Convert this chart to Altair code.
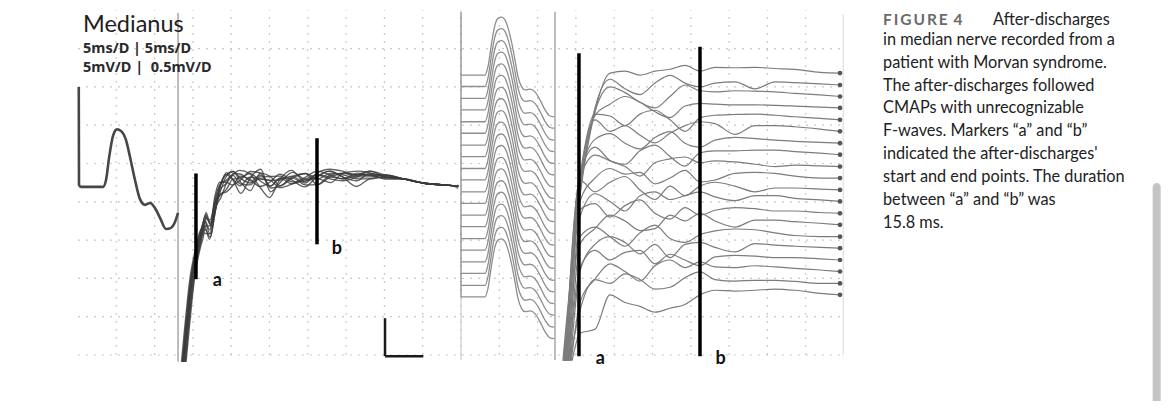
import altair as alt
import pandas as pd

# ---------------- data: time in ms (5 ms/div), amplitude in divisions ----------------
# Left panel: CMAP trace (5 mV/D)
cmap_left_t = [0.10, 0.13, 0.39, 3.26, 3.66, 4.05, 4.57, 5.09, 5.61, 6.27, 6.79, 7.44, 8.09,
               8.75, 9.40, 10.05, 10.71, 11.49, 12.14, 12.66, 13.06]
cmap_left_y = [7.00, 4.44, 4.39, 4.39, 4.57, 5.14, 5.72, 5.89, 5.85, 5.61, 5.17, 4.57, 4.07,
               3.92, 3.97, 3.84, 3.58, 3.29, 3.32, 3.47, 3.71]

# Left panel: superimposed F-wave / after-discharge sweeps (0.5 mV/D)
fbundle_t = [13.71, 14.10, 14.49, 14.88, 15.27, 15.66, 16.05, 16.58, 17.23, 17.88, 18.54, 19.32,
             20.23, 21.15, 22.45, 23.76, 25.06, 26.37, 27.93, 29.63, 31.20, 32.89, 34.59, 36.42,
             38.11, 40.07, 42.42, 45.03, 47.64, 49.60]
fbundle_y = [-0.18, 0.65, 1.44, 2.09, 2.53, 2.87, 3.19, 3.52, 3.37, 3.92, 4.26, 4.46,
             4.54, 4.52, 4.54, 4.60, 4.41, 4.52, 4.57, 4.54, 4.60, 4.65, 4.65, 4.65,
             4.70, 4.65, 4.60, 4.49, 4.44, 4.41]
fbundle_shift = [0.0, 0.15, -0.10, 0.30, 0.10, -0.20, 0.25, 0.05, 0.40, -0.05]
fbundle_dev_from = 7
fbundle_dev = [
    [0.10, 0.15, 0.05, -0.10, -0.15, 0.05, 0.10, 0.20, -0.05, 0.00, 0.10, -0.10, 0.05, 0.10, 0.00, -0.05, 0.05, 0.10, 0.00, 0.00],
    [-0.25, -0.30, -0.15, 0.15, 0.25, 0.25, 0.00, -0.25, 0.15, 0.25, -0.10, 0.05, 0.20, -0.15, 0.05, 0.10, 0.00, -0.05, 0.05, 0.00],
    [0.00, -0.10, 0.20, 0.25, 0.05, -0.10, 0.15, 0.05, -0.20, 0.10, 0.20, 0.00, -0.15, 0.05, 0.15, 0.00, -0.10, 0.05, 0.00, 0.00],
    [-0.35, -0.20, 0.00, 0.20, 0.30, 0.00, -0.30, 0.10, 0.25, -0.15, 0.00, 0.20, 0.05, 0.00, -0.15, 0.10, 0.05, 0.00, -0.05, 0.00],
    [0.15, 0.05, -0.15, 0.00, 0.20, 0.25, 0.10, -0.05, 0.00, 0.15, -0.15, -0.10, 0.10, 0.20, 0.05, -0.05, 0.10, 0.00, 0.05, 0.00],
    [-0.15, -0.35, -0.30, 0.05, 0.00, 0.15, 0.30, 0.20, -0.20, -0.30, 0.05, 0.25, 0.00, 0.05, 0.15, 0.00, -0.25, -0.10, 0.00, 0.00],
    [0.05, 0.10, 0.10, -0.05, -0.20, -0.10, 0.05, 0.25, 0.15, 0.00, 0.10, 0.05, -0.10, -0.15, 0.00, 0.10, 0.15, 0.05, 0.00, 0.00],
    [-0.15, 0.00, 0.15, 0.20, 0.10, 0.15, -0.05, -0.10, 0.05, 0.25, 0.15, -0.05, 0.00, 0.10, -0.05, -0.10, 0.00, 0.10, 0.05, 0.00],
    [0.20, 0.00, -0.05, -0.15, 0.05, 0.20, 0.20, 0.00, 0.10, -0.05, -0.10, 0.10, 0.20, 0.00, 0.10, 0.05, -0.05, -0.10, 0.00, 0.00],
    [-0.05, -0.20, 0.05, 0.15, 0.25, 0.05, -0.10, 0.10, 0.00, 0.15, 0.05, 0.10, -0.05, 0.15, 0.20, 0.15, 0.05, 0.00, -0.05, 0.00],
]

# Right panel: raster of 20 CMAPs (same shape, stacked baselines)
cmap_stack_t = [50.0, 53.13, 53.52, 54.0, 54.44, 54.83, 55.31, 55.74, 56.14, 56.62, 57.05, 57.44,
                57.92, 58.36, 59.01, 59.66, 60.31, 60.97, 61.62, 62.18]
cmap_stack_shape = [0.0, 0.0, 0.22, 0.84, 1.31, 1.48, 1.51, 1.44, 1.23, 0.84, 0.39, -0.04,
                    -0.31, -0.39, -0.37, -0.44, -0.65, -0.91, -1.07, -1.09]
cmap_stack_base = [7.31, 7.01, 6.70, 6.40, 6.09, 5.79, 5.48, 5.18, 4.87, 4.57, 4.26, 3.96,
                   3.65, 3.35, 3.04, 2.74, 2.43, 2.13, 1.82, 1.52]

# Right panel: raster of 20 after-discharge sweeps
fr_grid_t = [65.54, 67.49, 69.45, 71.41, 73.37, 75.33, 77.29, 79.25, 81.20, 83.16, 85.77, 88.38,
             91.00, 93.60, 96.87, 99.48]
fr_start_t = [63.4, 63.5, 63.3, 63.6, 63.7, 63.5, 63.8, 63.6, 63.9, 64.0, 63.7, 64.1, 63.8, 64.2,
              64.0, 64.3, 64.1, 64.4, 64.2, 64.5]
fr_start_y = -0.15
fr_level = [7.36, 7.05, 6.75, 6.45, 6.14, 5.84, 5.53, 5.23, 4.92, 4.62, 4.31, 4.01, 3.70, 3.40,
            3.09, 2.79, 2.48, 2.18, 1.87, 1.57]
fr_dev = [
    [-3.2, -1.00, 0.00, 0.05, -0.05, 0.05, 0.10, 0.20, 0.05, 0.15, 0.14, 0.15, 0.12, 0.10, 0.02, 0],
    [-2.8, -0.60, 0.15, -0.10, -0.25, 0.05, 0.25, 0.05, -0.05, 0.05, 0.08, -0.10, 0.08, 0.06, 0.03, 0],
    [-2.5, -0.40, 0.25, 0.10, -0.15, -0.30, 0.00, 0.30, 0.15, 0.12, 0.15, 0.14, 0.12, 0.08, 0.04, 0],
    [-2.0, -0.20, 0.10, 0.30, 0.15, -0.10, -0.25, 0.05, 0.12, 0.10, 0.08, 0.08, 0.07, 0.05, 0.02, 0],
    [-1.7, 0.15, 0.10, -0.15, 0.15, 0.25, 0.00, -0.30, 0.05, 0.12, 0.14, 0.15, 0.12, 0.08, 0.04, 0],
    [-1.2, 0.30, 0.00, 0.15, -0.10, -0.30, -0.05, 0.15, 0.25, 0.20, -0.08, 0.15, 0.15, 0.12, 0.06, 0],
    [-0.9, 0.10, 0.25, 0.00, -0.15, 0.15, 0.30, 0.00, -0.10, 0.08, 0.15, 0.12, 0.08, 0.05, 0.02, 0],
    [-0.5, 0.20, -0.15, -0.25, 0.10, 0.25, -0.05, -0.30, 0.05, 0.10, 0.10, 0.12, 0.12, 0.08, 0.04, 0],
    [-0.3, 0.30, 0.15, 0.00, -0.25, 0.10, 0.20, 0.25, 0.10, 0.15, 0.12, 0.06, 0.00, 0.04, 0.02, 0],
    [-0.6, 0.00, 0.25, 0.10, 0.15, -0.15, 0.00, 0.20, -0.10, -0.05, 0.12, 0.15, 0.12, 0.05, 0.00, 0],
    [0.25, -0.05, 0.20, 0.35, 0.00, -0.25, 0.10, -0.15, 0.10, 0.20, 0.10, -0.05, 0.05, 0.05, 0.02, 0],
    [-0.4, 0.20, 0.00, -0.25, 0.15, 0.25, 0.05, 0.15, 0.25, 0.12, 0.02, 0.15, 0.15, 0.08, 0.04, 0],
    [0.1, 0.25, -0.10, 0.20, 0.35, 0.00, -0.15, 0.15, -0.05, 0.08, 0.15, 0.12, 0.06, 0.06, 0.02, 0],
    [-0.5, -0.10, 0.25, 0.10, -0.15, -0.10, 0.25, 0.10, 0.30, 0.10, -0.06, 0.12, 0.12, 0.08, 0.04, 0],
    [0.0, 0.25, 0.00, -0.25, 0.10, 0.30, -0.05, -0.15, 0.05, 0.15, 0.20, 0.18, 0.10, 0.03, 0.00, 0],
    [-0.6, 0.10, 0.30, 0.15, -0.15, 0.10, -0.25, 0.10, 0.15, 0.02, -0.10, 0.12, 0.08, 0.05, 0.02, 0],
    [-0.2, 0.25, 0.00, 0.20, 0.25, -0.10, 0.15, 0.00, -0.15, 0.08, 0.12, 0.10, 0.06, 0.06, 0.03, 0],
    [-0.8, -0.20, 0.20, 0.00, -0.25, 0.15, 0.30, 0.10, 0.25, 0.12, 0.10, 0.15, 0.12, 0.08, 0.04, 0],
    [-0.7, 0.10, 0.00, 0.25, 0.10, -0.15, -0.10, 0.15, 0.30, 0.10, 0.06, 0.08, 0.08, 0.05, 0.00, 0],
    [-1.0, -0.90, 0.00, -0.20, -0.30, -0.45, -0.35, -0.25, 0.00, 0.12, 0.10, 0.12, 0.15, 0.12, 0.04, 0],
]

# Markers a / b (ms) and their vertical extent (div)
markers_t = [15.4, 31.2, 65.4, 81.2]
markers_lo = [1.98, 2.89, -0.03, -0.03]
markers_hi = [4.74, 5.66, 7.88, 8.05]
markers_label = ["a", "b", "a", "b"]
labels_t = [18.2, 33.8, 68.2, 83.9]
labels_y = [1.81, 2.65, -0.24, -0.24]

# Separators (ms, from div, to div, colour)
sep_t = [13.06, 50.0, 50.0, 62.27, 99.9]
sep_lo = [-0.17, 1.50, -0.13, -0.13, 0.0]
sep_hi = [8.93, 8.96, 1.50, 8.96, 8.9]
sep_col = ["#9a9a9a", "#8a8a8a", "#cfcfcf", "#9a9a9a", "#e2e2e2"]

caption = [
    "in median nerve recorded from a",
    "patient with Morvan syndrome.",
    "The after-discharges followed",
    "CMAPs with unrecognizable",
    "F-waves. Markers \u201ca\u201d and \u201cb\u201d",
    "indicated the after-discharges'",
    "start and end points. The duration",
    "between \u201ca\u201d and \u201cb\u201d was",
    "15.8 ms.",
]

FONT = "Lato"
W, H = 1154, 393
PXD = 38.3                 # pixels per division in the reference
X0, Y0 = 78 - 8, 355 - 8   # plot-pixel position of (0 ms, 0 div)
xs = alt.Scale(domain=[-X0 / PXD * 5, (W - X0) / PXD * 5], nice=False, zero=False)
ys = alt.Scale(domain=[-(H - Y0) / PXD, Y0 / PXD], nice=False, zero=False)


def X(f):
    return alt.X(f, type="quantitative", scale=xs, axis=None)


def Y(f):
    return alt.Y(f, type="quantitative", scale=ys, axis=None)


# ---------------- build tables ----------------
grid_v = pd.DataFrame({"t": [5.0 * k for k in range(1, 20)], "lo": 0.0, "hi": 9.0})
grid_h = pd.DataFrame({"y": [float(k) for k in range(0, 9)], "t0": 0.0, "t1": 100.0})

cmap_left = pd.DataFrame({"t": cmap_left_t, "y": cmap_left_y, "k": range(len(cmap_left_t))})

rows = []
for i, (sh, dev) in enumerate(zip(fbundle_shift, fbundle_dev)):
    for j, (t, y) in enumerate(zip(fbundle_t, fbundle_y)):
        d = 0.0
        if fbundle_dev_from <= j < fbundle_dev_from + len(dev):
            d = dev[j - fbundle_dev_from]
        s = sh if j < fbundle_dev_from else sh * 0.3
        rows.append({"trace": i, "k": j, "t": t + s, "y": y + d})
fbundle = pd.DataFrame(rows)

rows = []
for i, b in enumerate(cmap_stack_base):
    for j, (t, o) in enumerate(zip(cmap_stack_t, cmap_stack_shape)):
        rows.append({"trace": i, "k": j, "t": t, "y": b + o})
stack = pd.DataFrame(rows)

rows = []
for i, (t0, lev, dev) in enumerate(zip(fr_start_t, fr_level, fr_dev)):
    rows.append({"trace": i, "k": 0, "t": t0, "y": fr_start_y})
    for j, (t, d) in enumerate(zip(fr_grid_t, dev)):
        rows.append({"trace": i, "k": j + 1, "t": t, "y": lev + d})
fright = pd.DataFrame(rows)
fdots = pd.DataFrame({"t": [fr_grid_t[-1]] * len(fr_level), "y": fr_level})

markers = pd.DataFrame({"t": markers_t, "lo": markers_lo, "hi": markers_hi})
labels = pd.DataFrame({"t": labels_t, "y": labels_y, "txt": markers_label})
seps = pd.DataFrame({"t": sep_t, "lo": sep_lo, "hi": sep_hi, "c": sep_col})

scalebar_v = pd.DataFrame({"t": [40.08], "lo": [-0.03], "hi": [0.96]})
scalebar_h = pd.DataFrame({"t0": [40.08], "t1": [45.08], "y": [-0.03]})
arrow = pd.DataFrame({"t": [49.35], "y": [4.39]})

# ---------------- layers ----------------
layers = []
layers.append(alt.Chart(grid_v).mark_rule(color="#c9c9c9", strokeWidth=1.2, strokeDash=[2, 6])
              .encode(x=X("t"), y=Y("lo"), y2="hi"))
layers.append(alt.Chart(grid_h).mark_rule(color="#c9c9c9", strokeWidth=1.2, strokeDash=[2, 6])
              .encode(y=Y("y"), x=X("t0"), x2="t1"))
layers.append(alt.Chart(seps).mark_rule(strokeWidth=1.3)
              .encode(x=X("t"), y=Y("lo"), y2="hi", color=alt.Color("c:N", scale=None)))
layers.append(alt.Chart(cmap_left).mark_line(color="#474747", strokeWidth=2.6, interpolate="monotone")
              .encode(x=X("t"), y=Y("y"), order="k:Q"))
layers.append(alt.Chart(fbundle).mark_line(color="#3a3a3a", strokeWidth=1.35, opacity=0.8,
                                           interpolate="monotone")
              .encode(x=X("t"), y=Y("y"), detail="trace:N", order="k:Q"))
layers.append(alt.Chart(stack).mark_line(color="#8e8e8e", strokeWidth=1.3, interpolate="monotone")
              .encode(x=X("t"), y=Y("y"), detail="trace:N", order="k:Q"))
layers.append(alt.Chart(fright).mark_line(color="#7c7c7c", strokeWidth=1.2, interpolate="monotone")
              .encode(x=X("t"), y=Y("y"), detail="trace:N", order="k:Q"))
layers.append(alt.Chart(fdots).mark_circle(color="#555555", size=22, opacity=1)
              .encode(x=X("t"), y=Y("y")))
layers.append(alt.Chart(arrow).mark_point(shape="triangle-left", filled=True, color="#444444", size=25)
              .encode(x=X("t"), y=Y("y")))
layers.append(alt.Chart(markers).mark_rule(color="#000000", strokeWidth=3.5)
              .encode(x=X("t"), y=Y("lo"), y2="hi"))
layers.append(alt.Chart(labels).mark_text(font=FONT, fontSize=18, fontWeight="bold", color="#111111",
                                          align="center", baseline="alphabetic")
              .encode(x=X("t"), y=Y("y"), text="txt:N"))
layers.append(alt.Chart(scalebar_v).mark_rule(color="#1a1a1a", strokeWidth=2.5)
              .encode(x=X("t"), y=Y("lo"), y2="hi"))
layers.append(alt.Chart(scalebar_h).mark_rule(color="#1a1a1a", strokeWidth=2.5)
              .encode(x=X("t0"), x2="t1", y=Y("y")))

# header texts (pixel positions in the plot area)
hdr1 = pd.DataFrame({"txt": ["Medianus"], "px": [75], "py": [23.5]})
layers.append(alt.Chart(hdr1).mark_text(font=FONT, fontSize=23.5, color="#1e1e1e",
                                         align="left", baseline="alphabetic")
              .encode(x=alt.X("px:Q", scale=None), y=alt.Y("py:Q", scale=None), text="txt:N"))
hdr2 = pd.DataFrame({"txt": ["5ms/D | 5ms/D", "5mV/D |\u00a0 0.5mV/D"], "px": [75, 75], "py": [45, 63.5]})
layers.append(alt.Chart(hdr2).mark_text(font="Noto Sans", fontSize=14.5, fontWeight="bold",
                                         color="#2a2a2a", align="left", baseline="alphabetic")
              .encode(x=alt.X("px:Q", scale=None), y=alt.Y("py:Q", scale=None), text="txt:N"))

# caption
cap = pd.DataFrame({"txt": caption, "px": 875,
                    "py": [14 + 22.86 * (i + 1) for i in range(len(caption))]})
layers.append(alt.Chart(cap).mark_text(font=FONT, fontSize=16.3, color="#222222", align="left",
                                       baseline="alphabetic")
              .encode(x=alt.X("px:Q", scale=None), y=alt.Y("py:Q", scale=None), text="txt:N"))
fig = pd.DataFrame({"txt": ["F\u2009I\u2009G\u2009U\u2009R\u2009E\u2009 4"], "px": [875], "py": [16.5]})
layers.append(alt.Chart(fig).mark_text(font=FONT, fontSize=15.5, fontWeight="bold", color="#6a6a6a",
                                       align="left", baseline="alphabetic")
              .encode(x=alt.X("px:Q", scale=None), y=alt.Y("py:Q", scale=None), text="txt:N"))
fig2 = pd.DataFrame({"txt": ["After-discharges"], "px": [985], "py": [16.5]})
layers.append(alt.Chart(fig2).mark_text(font=FONT, fontSize=16.3, color="#222222",
                                        align="left", baseline="alphabetic")
              .encode(x=alt.X("px:Q", scale=None), y=alt.Y("py:Q", scale=None), text="txt:N"))

# scrollbar of the page screenshot
sb = pd.DataFrame({"x0": [1144.7], "x1": [1152.7], "y0": [175], "y1": [400]})
layers.append(alt.Chart(sb).mark_rect(color="#c4c4c4", cornerRadius=4)
              .encode(x=alt.X("x0:Q", scale=None), x2="x1", y=alt.Y("y0:Q", scale=None), y2="y1"))

chart = alt.layer(*layers).properties(
    width=W, height=H, padding=0, autosize=alt.AutoSizeParams(type="none"),
    background="white",
).configure_view(stroke=None)

chart.save("out.html", embed_options={"renderer": "svg", "actions": False})
